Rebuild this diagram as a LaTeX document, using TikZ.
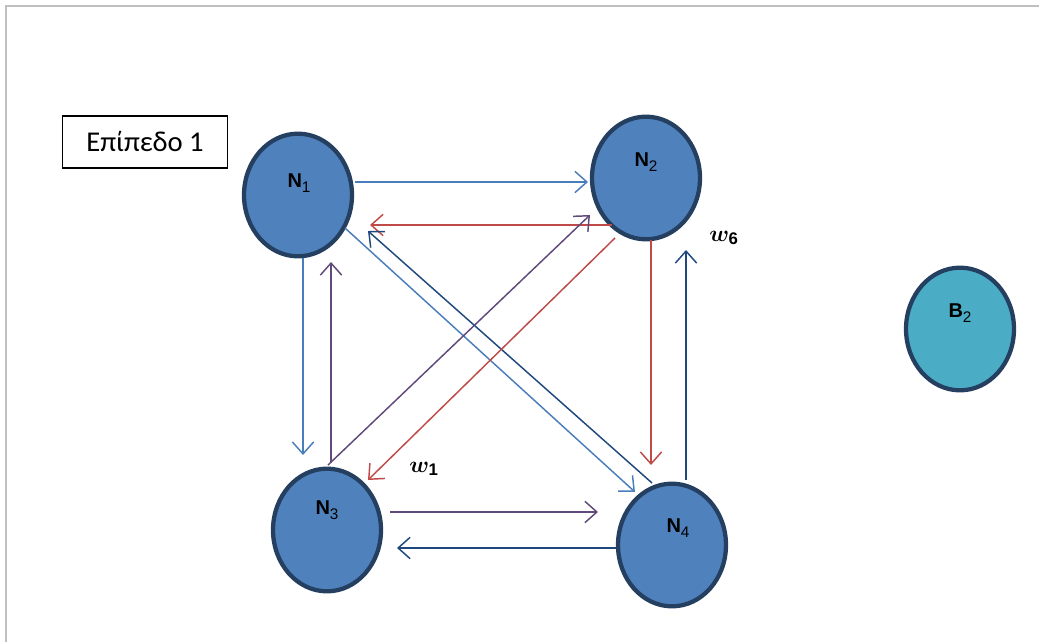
\documentclass[tikz,border=0pt]{standalone}
\usepackage{amsmath,bm}
\usepackage{fontspec}
\setmainfont{Liberation Sans}
\newfontfamily\calib{Carlito}
\usetikzlibrary{arrows.meta,calc,shapes.geometric}
\definecolor{nodefill}{HTML}{4F81BD}
\definecolor{nodeedge}{HTML}{243F60}
\definecolor{bfill}{HTML}{4BACC6}
\definecolor{lblue}{HTML}{4A7EBB}
\definecolor{dblue}{HTML}{1F497D}
\definecolor{rred}{HTML}{BE4B48}
\definecolor{ppurple}{HTML}{604A7B}
\definecolor{framegray}{HTML}{C0C0C0}
\tikzset{
  netnode/.style={ellipse, draw=nodeedge, fill=nodefill, line width=3.2pt,
    minimum width=81pt, minimum height=92pt, inner sep=0pt},
  bnode/.style={netnode, fill=bfill},
  nlabel/.style={font=\fontsize{15}{17}\selectfont, inner sep=0pt},
  wlabel/.style={font=\fontsize{18}{20}\selectfont, inner sep=0pt},
  conn/.style={line width=1.1pt, -{Straight Barb[length=9pt,width=16pt,line width=1.1pt]}},
}
\newcommand{\nlab}[2]{\textbf{#1}\raisebox{-0.45ex}{\fontsize{11.5}{13}\selectfont #2}}
\begin{document}
\begin{tikzpicture}[x=0.75pt,y=-0.75pt]
\useasboundingbox (0,0) rectangle (1039,642);
% frame
\coordinate (ftl) at (6,6);
\coordinate (ftr) at (1039,6);
\coordinate (fbl) at (6,642);
\draw[framegray, line width=1.5pt] (fbl) -- (ftl) -- (ftr);
% level label
\node[draw=black, line width=1.1pt, minimum width=124pt, minimum height=39pt,
  inner sep=0pt, font=\calib\fontsize{21.5}{24}\selectfont] (lvl) at (145,142) {Επίπεδο 1};
% nodes
\node[netnode] (N1) at (298,195) {};
\node[netnode] (N2) at (646,178) {};
\node[netnode] (N3) at (327,530) {};
\node[netnode] (N4) at (672,545) {};
\node[bnode] (B2) at (960,329) {};
\node[nlabel] (l1) at ($(N1.center)+(1,-12)$) {\nlab{N}{1}};
\node[nlabel] (l2) at ($(N2.center)+(0,-16)$) {\nlab{N}{2}};
\node[nlabel] (l3) at ($(N3.center)+(0,-20)$) {\nlab{N}{3}};
\node[nlabel] (l4) at ($(N4.center)+(6,-17)$) {\nlab{N}{4}};
\node[nlabel] (lb) at ($(B2.center)+(0,-16)$) {\nlab{B}{2}};
% weight labels
\node[wlabel] (w6) at (724,238) {$\bm{w}_{\mathbf{6}}$};
\node[wlabel] (w1) at (424,469) {$\bm{w}_{\mathbf{1}}$};
% connectors
\draw[conn, lblue] ($(N1.center)+(57,-13)$) -- ($(N2.center)+(-58,4)$);
\draw[conn, rred] ($(N2.center)+(-34,47)$) -- ($(N1.center)+(72,30)$);
\draw[conn, dblue] ($(N4.center)+(-20,-62)$) -- ($(N1.center)+(70,36)$);
\draw[conn, lblue] ($(N1.center)+(47,33)$) -- ($(N4.center)+(-37,-53)$);
\draw[conn, ppurple] ($(N3.center)+(1,-65)$) -- ($(N2.center)+(-56,37)$);
\draw[conn, rred] ($(N2.center)+(-31,60)$) -- ($(N3.center)+(41,-50)$);
\draw[conn, lblue] ($(N1.center)+(5,63)$) -- ($(N3.center)+(-24,-75)$);
\draw[conn, ppurple] ($(N3.center)+(4,-67)$) -- ($(N1.center)+(33,67)$);
\draw[conn, rred] ($(N2.center)+(5,62)$) -- ($(N4.center)+(-21,-80)$);
\draw[conn, dblue] ($(N4.center)+(14,-65)$) -- ($(N2.center)+(40,72)$);
\draw[conn, ppurple] ($(N3.center)+(63,-18)$) -- ($(N4.center)+(-74,-33)$);
\draw[conn, dblue] ($(N4.center)+(-56,3)$) -- ($(N3.center)+(70,18)$);
\end{tikzpicture}
\end{document}
